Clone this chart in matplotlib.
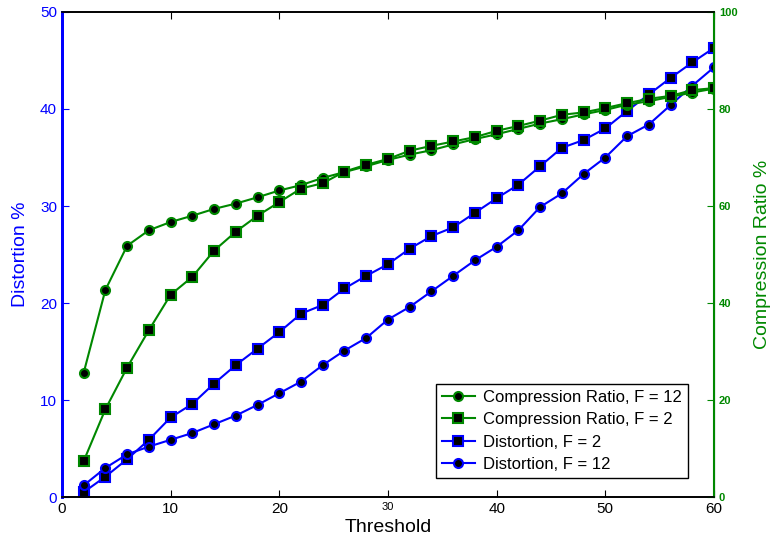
import matplotlib.pyplot as plt
import numpy as np

plt.rcParams['font.family'] = ['Liberation Sans', 'DejaVu Sans']

threshold = np.arange(2, 61, 2)

# compression ratio (%), right axis
cr_f12 = [25.6, 42.7, 51.8, 55.0, 56.7, 58.0, 59.4, 60.5, 61.8, 63.2,
          64.3, 65.8, 67.0, 68.2, 69.5, 70.6, 71.5, 72.7, 73.8, 74.8,
          75.9, 77.0, 77.9, 78.9, 79.8, 80.9, 81.6, 82.5, 83.4, 84.2]
cr_f2 = [7.4, 18.1, 26.7, 34.4, 41.7, 45.4, 50.8, 54.7, 58.0, 60.8,
         63.6, 64.7, 67.1, 68.5, 69.7, 71.4, 72.4, 73.3, 74.2, 75.5,
         76.5, 77.6, 78.8, 79.3, 80.2, 81.2, 82.1, 82.7, 83.9, 84.3]

# distortion (%), left axis
dist_f2 = [0.5, 2.1, 3.9, 5.9, 8.2, 9.6, 11.7, 13.6, 15.3, 17.0,
           18.9, 19.8, 21.5, 22.8, 24.0, 25.6, 26.9, 27.8, 29.3, 30.8,
           32.2, 34.1, 36.0, 36.8, 38.0, 39.8, 41.5, 43.2, 44.8, 46.3]
dist_f12 = [1.2, 3.0, 4.4, 5.2, 5.9, 6.6, 7.5, 8.4, 9.5, 10.7,
            11.9, 13.6, 15.1, 16.4, 18.3, 19.6, 21.2, 22.8, 24.4, 25.8,
            27.5, 29.9, 31.3, 33.3, 35.0, 37.2, 38.4, 40.4, 42.4, 44.3]

blue = '#0000ff'
green = '#008800'

fig = plt.figure(figsize=(7.74, 5.45), dpi=100)
ax = fig.add_axes([0.080, 0.088, 0.8425, 0.890])
ax2 = ax.twinx()

mk = dict(lw=1.5, markerfacecolor='black', markeredgewidth=1.5, markersize=6.5)

l3, = ax.plot(threshold, dist_f2, '-s', color=blue, markeredgecolor=blue,
              label='Distortion, F = 2', **mk)
l4, = ax.plot(threshold, dist_f12, '-o', color=blue, markeredgecolor=blue,
              label='Distortion, F = 12', **mk)
l1, = ax2.plot(threshold, cr_f12, '-o', color=green, markeredgecolor=green,
               label='Compression Ratio, F = 12', **mk)
l2, = ax2.plot(threshold, cr_f2, '-s', color=green, markeredgecolor=green,
               label='Compression Ratio, F = 2', **mk)

ax.set_xlim(0, 60)
ax.set_ylim(0, 50)
ax2.set_ylim(0, 100)
ax.set_xticks(range(0, 61, 10))
ax.set_yticks(range(0, 51, 10))
ax2.set_yticks(range(0, 101, 20))

ax.tick_params(axis='x', direction='in', top=True, labelsize=11, colors='black', length=5)
ax.tick_params(axis='y', direction='in', labelsize=11, colors=blue, length=5)
ax2.tick_params(axis='y', direction='in', labelsize=8, colors=green, length=5)
for t in ax2.get_yticklabels():
    t.set_fontweight('bold')
for t in ax.get_xticklabels():
    if t.get_text() == '30':
        t.set_fontsize(8)

ax.spines['left'].set_color(blue)
ax.spines['left'].set_linewidth(2)
ax2.spines['left'].set_color(blue)
ax2.spines['left'].set_linewidth(2)
ax2.spines['right'].set_color(green)
ax2.spines['right'].set_linewidth(1.5)
for a in (ax, ax2):
    a.spines['top'].set_linewidth(1.2)
    a.spines['bottom'].set_linewidth(1.2)

ax.set_xlabel('Threshold', fontsize=14, labelpad=2)
ax.set_ylabel('Distortion %', fontsize=14, color=blue, labelpad=8)
ax2.set_ylabel('Compression Ratio %', fontsize=14, color=green, labelpad=12)

leg = ax2.legend(handles=[l1, l2, l3, l4], loc='lower right',
                 bbox_to_anchor=(0.960, 0.039), borderaxespad=0,
                 fontsize=12, fancybox=False, framealpha=1,
                 edgecolor='black', borderpad=0.35,
                 labelspacing=0.45, handlelength=2.0, handletextpad=0.5)
leg.get_frame().set_linewidth(1.0)

fig.savefig('out.png', dpi=100)
